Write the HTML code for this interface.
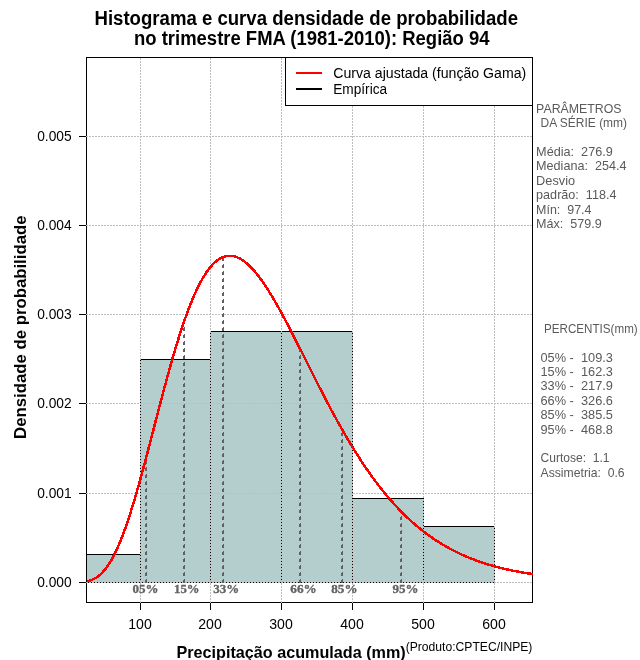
<!DOCTYPE html>
<html lang="pt"><head><meta charset="utf-8"><title>Histograma e curva densidade de probabilidade</title>
<style>html,body{margin:0;padding:0;background:#fff;}body{width:640px;height:660px;overflow:hidden;}svg{display:block;}text{font-family:"Liberation Sans",Arial,Helvetica,sans-serif;fill:#000;white-space:pre;}.b{font-weight:bold;}.g{fill:#5a5a5a;}.pc{font-family:"Liberation Serif","Times New Roman",serif;font-weight:bold;fill:#636363;stroke:#636363;stroke-width:0.35px;}</style></head><body>
<svg width="640" height="660" viewBox="0 0 640 660">
<rect x="0" y="0" width="640" height="660" fill="#fff"/>
<defs><clipPath id="cp"><rect x="86" y="57" width="447" height="546"/></clipPath><clipPath id="cc"><rect x="87" y="57" width="446" height="546"/></clipPath></defs>
<g clip-path="url(#cp)" shape-rendering="crispEdges">
<rect x="69.5" y="554.5" width="71.0" height="28.0" fill="#b4cdcd" stroke="#000" stroke-width="1"/>
<rect x="140.5" y="359.5" width="70.0" height="223.0" fill="#b4cdcd" stroke="#000" stroke-width="1"/>
<rect x="210.5" y="331.5" width="71.0" height="251.0" fill="#b4cdcd" stroke="#000" stroke-width="1"/>
<rect x="281.5" y="331.5" width="71.0" height="251.0" fill="#b4cdcd" stroke="#000" stroke-width="1"/>
<rect x="352.5" y="498.5" width="71.0" height="84.0" fill="#b4cdcd" stroke="#000" stroke-width="1"/>
<rect x="423.5" y="526.5" width="71.0" height="56.0" fill="#b4cdcd" stroke="#000" stroke-width="1"/>
</g>
<g shape-rendering="crispEdges" stroke="#000" stroke-width="1" fill="none">
<rect x="86.5" y="57.5" width="446" height="545"/>
<line x1="140.5" y1="602.5" x2="140.5" y2="610"/>
<line x1="210.5" y1="602.5" x2="210.5" y2="610"/>
<line x1="281.5" y1="602.5" x2="281.5" y2="610"/>
<line x1="352.5" y1="602.5" x2="352.5" y2="610"/>
<line x1="423.5" y1="602.5" x2="423.5" y2="610"/>
<line x1="494.5" y1="602.5" x2="494.5" y2="610"/>
<line x1="79" y1="582.5" x2="86.5" y2="582.5"/>
<line x1="79" y1="493.5" x2="86.5" y2="493.5"/>
<line x1="79" y1="403.5" x2="86.5" y2="403.5"/>
<line x1="79" y1="314.5" x2="86.5" y2="314.5"/>
<line x1="79" y1="225.5" x2="86.5" y2="225.5"/>
<line x1="79" y1="136.5" x2="86.5" y2="136.5"/>
</g>
<g shape-rendering="crispEdges" stroke="#bebebe" stroke-width="1" stroke-dasharray="2 1" fill="none">
<line x1="140.5" y1="603" x2="140.5" y2="57"/>
<line x1="210.5" y1="603" x2="210.5" y2="57"/>
<line x1="281.5" y1="603" x2="281.5" y2="57"/>
<line x1="352.5" y1="603" x2="352.5" y2="57"/>
<line x1="423.5" y1="603" x2="423.5" y2="57"/>
<line x1="494.5" y1="603" x2="494.5" y2="57"/>
<line x1="86" y1="582.5" x2="533" y2="582.5"/>
<line x1="86" y1="493.5" x2="533" y2="493.5"/>
<line x1="86" y1="403.5" x2="533" y2="403.5"/>
<line x1="86" y1="314.5" x2="533" y2="314.5"/>
<line x1="86" y1="225.5" x2="533" y2="225.5"/>
<line x1="86" y1="136.5" x2="533" y2="136.5"/>
</g>
<g shape-rendering="crispEdges" stroke="#606060" stroke-width="1" fill="none">
<line x1="145.5" y1="583" x2="145.5" y2="455.03" stroke-dasharray="3 4"/>
<line x1="146.5" y1="583" x2="146.5" y2="455.03" stroke-dasharray="4 3"/>
<line x1="183.5" y1="583" x2="183.5" y2="320.80" stroke-dasharray="3 4"/>
<line x1="184.5" y1="583" x2="184.5" y2="320.80" stroke-dasharray="4 3"/>
<line x1="222.5" y1="583" x2="222.5" y2="256.97" stroke-dasharray="3 4"/>
<line x1="223.5" y1="583" x2="223.5" y2="256.97" stroke-dasharray="4 3"/>
<line x1="299.5" y1="583" x2="299.5" y2="350.35" stroke-dasharray="3 4"/>
<line x1="300.5" y1="583" x2="300.5" y2="350.35" stroke-dasharray="4 3"/>
<line x1="341.5" y1="583" x2="341.5" y2="430.26" stroke-dasharray="3 4"/>
<line x1="342.5" y1="583" x2="342.5" y2="430.26" stroke-dasharray="4 3"/>
<line x1="400.5" y1="583" x2="400.5" y2="511.97" stroke-dasharray="3 4"/>
<line x1="401.5" y1="583" x2="401.5" y2="511.97" stroke-dasharray="4 3"/>
</g>
<polyline clip-path="url(#cc)" shape-rendering="crispEdges" fill="none" stroke="#ff0000" stroke-width="2.5" stroke-linejoin="round" points="86.28,581.36 87.28,581.16 88.29,580.93 89.29,580.67 90.29,580.36 91.29,580.02 92.30,579.62 93.30,579.18 94.30,578.69 95.31,578.14 96.31,577.53 97.31,576.86 98.31,576.13 99.32,575.34 100.32,574.48 101.32,573.55 102.33,572.55 103.33,571.47 104.33,570.33 105.34,569.10 106.34,567.80 107.34,566.42 108.34,564.97 109.35,563.43 110.35,561.81 111.35,560.11 112.36,558.33 113.36,556.47 114.36,554.52 115.37,552.50 116.37,550.39 117.37,548.21 118.37,545.94 119.38,543.60 120.38,541.18 121.38,538.68 122.39,536.11 123.39,533.46 124.39,530.74 125.39,527.94 126.40,525.08 127.40,522.15 128.40,519.16 129.41,516.10 130.41,512.97 131.41,509.79 132.42,506.55 133.42,503.25 134.42,499.90 135.42,496.50 136.43,493.05 137.43,489.56 138.43,486.02 139.44,482.44 140.44,478.82 141.44,475.17 142.44,471.48 143.45,467.76 144.45,464.02 145.45,460.25 146.46,456.46 147.46,452.64 148.46,448.81 149.47,444.97 150.47,441.11 151.47,437.25 152.47,433.38 153.48,429.51 154.48,425.63 155.48,421.75 156.49,417.88 157.49,414.02 158.49,410.17 159.49,406.32 160.50,402.49 161.50,398.68 162.50,394.88 163.51,391.11 164.51,387.36 165.51,383.63 166.52,379.93 167.52,376.26 168.52,372.63 169.52,369.02 170.53,365.45 171.53,361.92 172.53,358.43 173.54,354.98 174.54,351.57 175.54,348.20 176.54,344.88 177.55,341.61 178.55,338.39 179.55,335.21 180.56,332.09 181.56,329.02 182.56,326.01 183.57,323.05 184.57,320.15 185.57,317.30 186.57,314.51 187.58,311.78 188.58,309.12 189.58,306.51 190.59,303.96 191.59,301.48 192.59,299.06 193.59,296.71 194.60,294.41 195.60,292.19 196.60,290.03 197.61,287.93 198.61,285.90 199.61,283.94 200.62,282.04 201.62,280.21 202.62,278.45 203.62,276.76 204.63,275.13 205.63,273.57 206.63,272.08 207.64,270.65 208.64,269.29 209.64,268.00 210.65,266.78 211.65,265.62 212.65,264.53 213.65,263.50 214.66,262.54 215.66,261.65 216.66,260.82 217.67,260.06 218.67,259.36 219.67,258.72 220.67,258.15 221.68,257.64 222.68,257.19 223.68,256.80 224.69,256.48 225.69,256.21 226.69,256.01 227.70,255.87 228.70,255.78 229.70,255.75 230.70,255.78 231.71,255.86 232.71,256.00 233.71,256.20 234.72,256.45 235.72,256.75 236.72,257.11 237.72,257.52 238.73,257.97 239.73,258.48 240.73,259.04 241.74,259.65 242.74,260.30 243.74,261.00 244.75,261.75 245.75,262.54 246.75,263.38 247.75,264.26 248.76,265.18 249.76,266.14 250.76,267.15 251.77,268.19 252.77,269.27 253.77,270.39 254.77,271.55 255.78,272.74 256.78,273.97 257.78,275.24 258.79,276.53 259.79,277.86 260.79,279.23 261.80,280.62 262.80,282.04 263.80,283.49 264.80,284.97 265.81,286.48 266.81,288.02 267.81,289.58 268.82,291.16 269.82,292.77 270.82,294.40 271.82,296.06 272.83,297.74 273.83,299.43 274.83,301.15 275.84,302.89 276.84,304.65 277.84,306.42 278.85,308.21 279.85,310.02 280.85,311.84 281.85,313.68 282.86,315.53 283.86,317.39 284.86,319.27 285.87,321.16 286.87,323.06 287.87,324.97 288.87,326.89 289.88,328.83 290.88,330.77 291.88,332.71 292.89,334.67 293.89,336.63 294.89,338.60 295.90,340.57 296.90,342.55 297.90,344.53 298.90,346.52 299.91,348.51 300.91,350.50 301.91,352.50 302.92,354.49 303.92,356.49 304.92,358.49 305.93,360.49 306.93,362.49 307.93,364.49 308.93,366.48 309.94,368.48 310.94,370.47 311.94,372.46 312.95,374.45 313.95,376.44 314.95,378.42 315.95,380.40 316.96,382.37 317.96,384.34 318.96,386.30 319.97,388.26 320.97,390.21 321.97,392.16 322.98,394.09 323.98,396.03 324.98,397.95 325.98,399.87 326.99,401.78 327.99,403.68 328.99,405.58 330.00,407.46 331.00,409.34 332.00,411.21 333.00,413.07 334.01,414.92 335.01,416.76 336.01,418.59 337.02,420.41 338.02,422.22 339.02,424.02 340.03,425.80 341.03,427.58 342.03,429.35 343.03,431.11 344.04,432.85 345.04,434.58 346.04,436.31 347.05,438.02 348.05,439.71 349.05,441.40 350.05,443.08 351.06,444.74 352.06,446.39 353.06,448.03 354.07,449.65 355.07,451.27 356.07,452.87 357.08,454.46 358.08,456.03 359.08,457.59 360.08,459.14 361.09,460.68 362.09,462.21 363.09,463.72 364.10,465.22 365.10,466.70 366.10,468.17 367.10,469.63 368.11,471.08 369.11,472.51 370.11,473.93 371.12,475.34 372.12,476.74 373.12,478.12 374.13,479.48 375.13,480.84 376.13,482.18 377.13,483.51 378.14,484.82 379.14,486.13 380.14,487.42 381.15,488.69 382.15,489.96 383.15,491.21 384.15,492.45 385.16,493.67 386.16,494.88 387.16,496.08 388.17,497.27 389.17,498.44 390.17,499.60 391.18,500.75 392.18,501.89 393.18,503.01 394.18,504.12 395.19,505.22 396.19,506.31 397.19,507.39 398.20,508.45 399.20,509.50 400.20,510.54 401.20,511.56 402.21,512.58 403.21,513.58 404.21,514.57 405.22,515.55 406.22,516.52 407.22,517.47 408.23,518.42 409.23,519.35 410.23,520.28 411.23,521.19 412.24,522.09 413.24,522.97 414.24,523.85 415.25,524.72 416.25,525.58 417.25,526.42 418.26,527.26 419.26,528.08 420.26,528.89 421.26,529.70 422.27,530.49 423.27,531.28 424.27,532.05 425.28,532.81 426.28,533.56 427.28,534.31 428.28,535.04 429.29,535.77 430.29,536.48 431.29,537.18 432.30,537.88 433.30,538.57 434.30,539.24 435.31,539.91 436.31,540.57 437.31,541.22 438.31,541.86 439.32,542.49 440.32,543.12 441.32,543.73 442.33,544.34 443.33,544.94 444.33,545.53 445.33,546.11 446.34,546.68 447.34,547.25 448.34,547.81 449.35,548.36 450.35,548.90 451.35,549.43 452.36,549.96 453.36,550.48 454.36,550.99 455.36,551.50 456.37,551.99 457.37,552.48 458.37,552.97 459.38,553.44 460.38,553.91 461.38,554.37 462.38,554.83 463.39,555.28 464.39,555.72 465.39,556.15 466.40,556.58 467.40,557.01 468.40,557.42 469.41,557.83 470.41,558.24 471.41,558.63 472.41,559.03 473.42,559.41 474.42,559.79 475.42,560.17 476.43,560.54 477.43,560.90 478.43,561.26 479.43,561.61 480.44,561.95 481.44,562.30 482.44,562.63 483.45,562.96 484.45,563.29 485.45,563.61 486.46,563.92 487.46,564.24 488.46,564.54 489.46,564.84 490.47,565.14 491.47,565.43 492.47,565.72 493.48,566.00 494.48,566.28 495.48,566.55 496.48,566.82 497.49,567.09 498.49,567.35 499.49,567.60 500.50,567.86 501.50,568.10 502.50,568.35 503.51,568.59 504.51,568.83 505.51,569.06 506.51,569.29 507.52,569.51 508.52,569.73 509.52,569.95 510.53,570.17 511.53,570.38 512.53,570.58 513.54,570.79 514.54,570.99 515.54,571.19 516.54,571.38 517.55,571.57 518.55,571.76 519.55,571.94 520.56,572.13 521.56,572.30 522.56,572.48 523.56,572.65 524.57,572.82 525.57,572.99 526.57,573.15 527.58,573.31 528.58,573.47 529.58,573.63 530.59,573.78 531.59,573.93 532.59,574.08 533.59,574.23"/>
<g shape-rendering="crispEdges">
<rect x="285.5" y="57.5" width="247" height="48" fill="#fff" stroke="#000" stroke-width="1"/>
<line x1="296" y1="73" x2="322" y2="73" stroke="#ff0000" stroke-width="2"/>
<line x1="296" y1="89" x2="322" y2="89" stroke="#000" stroke-width="2"/>
</g>
<text  font-size="15.3" x="333.25" y="77.70" textLength="193.00" lengthAdjust="spacingAndGlyphs">Curva ajustada (função Gama)</text>
<text  font-size="15.3" x="333.25" y="93.70" textLength="53.85" lengthAdjust="spacingAndGlyphs">Empírica</text>
<text  font-size="15.4" x="128.25" y="628.90" textLength="23.50" lengthAdjust="spacingAndGlyphs">100</text>
<text  font-size="15.4" x="198.25" y="628.90" textLength="23.50" lengthAdjust="spacingAndGlyphs">200</text>
<text  font-size="15.4" x="269.25" y="628.90" textLength="23.50" lengthAdjust="spacingAndGlyphs">300</text>
<text  font-size="15.4" x="340.25" y="628.90" textLength="23.50" lengthAdjust="spacingAndGlyphs">400</text>
<text  font-size="15.4" x="411.25" y="628.90" textLength="23.50" lengthAdjust="spacingAndGlyphs">500</text>
<text  font-size="15.4" x="482.25" y="628.90" textLength="23.50" lengthAdjust="spacingAndGlyphs">600</text>
<text  font-size="15.4" x="37.20" y="586.90" textLength="34.50" lengthAdjust="spacingAndGlyphs">0.000</text>
<text  font-size="15.4" x="37.20" y="497.90" textLength="34.50" lengthAdjust="spacingAndGlyphs">0.001</text>
<text  font-size="15.4" x="37.20" y="407.90" textLength="34.50" lengthAdjust="spacingAndGlyphs">0.002</text>
<text  font-size="15.4" x="37.20" y="318.90" textLength="34.50" lengthAdjust="spacingAndGlyphs">0.003</text>
<text  font-size="15.4" x="37.20" y="229.90" textLength="34.50" lengthAdjust="spacingAndGlyphs">0.004</text>
<text  font-size="15.4" x="37.20" y="140.90" textLength="34.50" lengthAdjust="spacingAndGlyphs">0.005</text>
<text class="pc" font-size="13.1" x="132.50" y="593.00" textLength="26.00" lengthAdjust="spacingAndGlyphs">05%</text>
<text class="pc" font-size="13.1" x="174.00" y="593.00" textLength="25.50" lengthAdjust="spacingAndGlyphs">15%</text>
<text class="pc" font-size="13.1" x="213.25" y="593.00" textLength="26.00" lengthAdjust="spacingAndGlyphs">33%</text>
<text class="pc" font-size="13.1" x="290.25" y="593.00" textLength="26.50" lengthAdjust="spacingAndGlyphs">66%</text>
<text class="pc" font-size="13.1" x="331.25" y="593.00" textLength="26.25" lengthAdjust="spacingAndGlyphs">85%</text>
<text class="pc" font-size="13.1" x="392.50" y="593.00" textLength="26.00" lengthAdjust="spacingAndGlyphs">95%</text>
<text class="b" font-size="19.5" x="94.50" y="24.80" textLength="423.50" lengthAdjust="spacingAndGlyphs">Histograma e curva densidade de probabilidade</text>
<text class="b" font-size="19.5" x="134.00" y="45.40" textLength="355.50" lengthAdjust="spacingAndGlyphs">no trimestre FMA (1981-2010): Região 94</text>
<text class="b" font-size="17" x="176.50" y="658.00" textLength="229.20" lengthAdjust="spacingAndGlyphs">Precipitação acumulada (mm)</text>
<text  font-size="13" x="405.70" y="651.00" textLength="126.70" lengthAdjust="spacingAndGlyphs">(Produto:CPTEC/INPE)</text>
<g transform="translate(26,438.4) rotate(-90)">
<text class="b" font-size="17" x="-0.50" y="0.00" textLength="223.40" lengthAdjust="spacingAndGlyphs">Densidade de probabilidade</text>
</g>
<text class="g" font-size="13" x="536.10" y="112.80" textLength="85.50" lengthAdjust="spacingAndGlyphs">PARÂMETROS</text>
<text class="g" font-size="13" x="540.50" y="127.20" textLength="86.60" lengthAdjust="spacingAndGlyphs">DA SÉRIE (mm)</text>
<text class="g" font-size="13" x="536.10" y="156.00" textLength="76.70" lengthAdjust="spacingAndGlyphs">Média:  276.9</text>
<text class="g" font-size="13" x="536.10" y="170.40" textLength="90.40" lengthAdjust="spacingAndGlyphs">Mediana:  254.4</text>
<text class="g" font-size="13" x="536.10" y="184.80" textLength="39.00" lengthAdjust="spacingAndGlyphs">Desvio</text>
<text class="g" font-size="13" x="536.10" y="199.20" textLength="80.40" lengthAdjust="spacingAndGlyphs">padrão:  118.4</text>
<text class="g" font-size="13" x="536.10" y="213.60" textLength="55.40" lengthAdjust="spacingAndGlyphs">Mín:  97.4</text>
<text class="g" font-size="13" x="536.10" y="228.00" textLength="65.70" lengthAdjust="spacingAndGlyphs">Máx:  579.9</text>
<text class="g" font-size="13" x="544.00" y="332.80" textLength="93.70" lengthAdjust="spacingAndGlyphs">PERCENTIS(mm)</text>
<text class="g" font-size="13" x="540.50" y="361.60" textLength="72.40" lengthAdjust="spacingAndGlyphs">05% -  109.3</text>
<text class="g" font-size="13" x="540.50" y="376.00" textLength="72.40" lengthAdjust="spacingAndGlyphs">15% -  162.3</text>
<text class="g" font-size="13" x="540.50" y="390.40" textLength="72.40" lengthAdjust="spacingAndGlyphs">33% -  217.9</text>
<text class="g" font-size="13" x="540.50" y="404.80" textLength="72.40" lengthAdjust="spacingAndGlyphs">66% -  326.6</text>
<text class="g" font-size="13" x="540.50" y="419.20" textLength="72.40" lengthAdjust="spacingAndGlyphs">85% -  385.5</text>
<text class="g" font-size="13" x="540.50" y="433.60" textLength="72.40" lengthAdjust="spacingAndGlyphs">95% -  468.8</text>
<text class="g" font-size="13" x="540.50" y="462.40" textLength="69.00" lengthAdjust="spacingAndGlyphs">Curtose:  1.1</text>
<text class="g" font-size="13" x="540.50" y="476.80" textLength="84.10" lengthAdjust="spacingAndGlyphs">Assimetria:  0.6</text>
</svg></body></html>
